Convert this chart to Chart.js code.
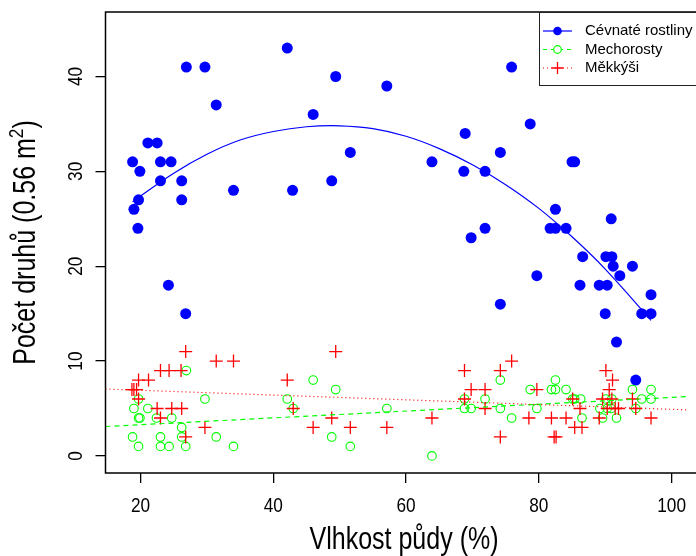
<!DOCTYPE html>
<html>
<head>
<meta charset="utf-8">
<script src="https://cdn.jsdelivr.net/npm/chart.js@4.4.1/dist/chart.umd.min.js"></script>
<style>
  html, body { margin: 0; padding: 0; background: #fff; }
</style>
</head>
<body>
<canvas id="myChart" width="696" height="556"></canvas>
<script>
// values
const cevnateX = [18.8, 19.0, 19.6, 19.7, 19.9, 21.1, 22.5, 23.0, 23.0, 24.2, 24.6, 26.2, 26.2, 26.8, 26.9, 29.7, 31.4, 34.0, 42.1, 42.9,
  46.0, 48.8, 49.4, 51.6, 57.1, 63.9, 68.7, 68.9, 69.8, 71.9, 71.9, 74.2, 74.2, 75.9, 78.7, 79.7, 81.7, 82.5, 82.5, 84.1,
  85.0, 85.4, 86.2, 86.6, 89.1, 90.3, 90.0, 90.1, 91.0, 90.9, 91.2, 91.7, 92.2, 94.1, 94.6, 95.5, 96.9, 96.9];
const cevnateY = [31, 26, 24, 27, 30, 33, 33, 31, 29, 18, 31, 29, 27, 15, 41, 41, 37, 28, 43, 28,
  36, 29, 40, 32, 39, 31, 30, 34, 23, 30, 24, 32, 16, 41, 35, 19, 24, 24, 26, 24,
  31, 31, 18, 21, 18, 18, 15, 21, 21, 25, 20, 12, 19, 20, 8, 15, 15, 17];

const mechX = [18.8, 19.0, 19.7, 19.7, 19.9, 19.7, 21.1, 22.4, 23.0, 23.0, 24.3, 24.7, 26.2, 26.2, 26.8, 26.9, 29.7, 31.4, 34.0, 42.1,
  43.0, 46.0, 48.8, 49.4, 51.6, 57.1, 63.9, 68.8, 68.8, 69.8, 71.9, 74.2, 74.2, 75.9, 78.7, 79.7, 81.9, 82.5, 82.5, 84.1,
  85.1, 85.4, 86.3, 86.5, 89.2, 89.6, 90.1, 90.3, 90.9, 91.0, 91.7, 94.1, 94.6, 95.5, 96.9, 96.9];
const mechY = [2, 5, 6, 4, 4, 1, 5, 4, 2, 1, 1, 4, 3, 2, 1, 9, 6, 2, 1, 6,
  5, 8, 2, 7, 1, 5, 0, 6, 5, 5, 6, 8, 5, 4, 7, 5, 7, 7, 8, 7,
  6, 6, 6, 4, 5, 4, 6, 5, 5, 6, 4, 7, 5, 6, 7, 6];

const mekX = [18.7, 19.0, 19.4, 19.7, 19.7, 21.2, 22.5, 23.0, 23.0, 24.3, 24.7, 26.1, 26.2, 26.8, 26.8, 29.7, 31.4, 34.0, 42.1, 43.0,
  46.0, 48.8, 49.4, 51.6, 57.1, 63.9, 68.8, 68.8, 69.8, 71.9, 71.9, 74.2, 74.2, 75.9, 78.5, 79.7, 81.9, 82.3, 82.6, 84.1,
  85.1, 85.4, 86.2, 86.5, 89.1, 89.6, 90.1, 90.3, 90.6, 91.0, 91.1, 91.5, 92.0, 94.1, 94.6, 96.9];
const mekY = [7, 7, 7, 8, 6, 8, 5, 9, 4, 9, 5, 9, 5, 11, 2, 3, 10, 10, 8, 5,
  3, 4, 11, 3, 3, 4, 9, 6, 7, 7, 5, 9, 2, 10, 4, 7, 4, 2, 2, 4,
  6, 3, 5, 3, 4, 6, 9, 5, 7, 6, 8, 5, 5, 6, 5, 4];

// fitted curves
const fitCevX = [18.8, 25, 30, 35, 40, 45, 50, 55, 60, 65, 70, 75, 80, 85, 90, 96.9];
const fitCevY = [26.8, 29.8, 31.8, 33.3, 34.2, 34.7, 34.8, 34.5, 33.7, 32.4, 30.7, 28.6, 26.1, 23.1, 19.7, 14.3];
const fitMechX = [14.72, 102.5];
const fitMechY = [3.1, 6.26];
const fitMekX = [14.72, 102.5];
const fitMekY = [7.05, 4.85];

const xTicks = [20, 40, 60, 80, 100];
const yTicks = [0, 10, 20, 30, 40];
const labels = ['Cévnaté rostliny', 'Mechorosty', 'Měkkýši'];
const xTitle = 'Vlhkost půdy (%)';
const yTitle = 'Počet druhů (0.56 m';

const sans = '"Liberation Sans", Arial, sans-serif';
const squeeze = 0.82; // axis text in the reference is condensed

function pts(xs, ys) {
  return xs.map((x, i) => ({ x: x, y: ys[i] }));
}

// draw condensed text at (x, y), optionally rotated
function narrowText(ctx, text, x, y, size, rot) {
  ctx.save();
  ctx.translate(x, y);
  if (rot) ctx.rotate(rot);
  ctx.scale(squeeze, 1);
  ctx.font = size + 'px ' + sans;
  ctx.fillText(text, 0, 0);
  ctx.restore();
}

const data = {
  datasets: [
    { label: 'fit3', data: pts(fitMekX, fitMekY), showLine: true, pointRadius: 0, borderColor: '#FF0000', borderWidth: 1.2, borderDash: [1, 3] },
    { label: 'fit2', data: pts(fitMechX, fitMechY), showLine: true, pointRadius: 0, borderColor: '#00FF00', borderWidth: 1.2, borderDash: [5, 4] },
    { label: 'fit1', data: pts(fitCevX, fitCevY), showLine: true, pointRadius: 0, borderColor: '#0000FF', borderWidth: 1.2, tension: 0.4 },
    { label: labels[2], data: pts(mekX, mekY), pointStyle: 'cross', pointRadius: 6.5, borderColor: '#FF0000', borderWidth: 1.3, backgroundColor: '#FF0000' },
    { label: labels[1], data: pts(mechX, mechY), pointStyle: 'circle', pointRadius: 4.3, borderColor: '#00FF00', borderWidth: 1.1, backgroundColor: 'rgba(0,0,0,0)' },
    { label: labels[0], data: pts(cevnateX, cevnateY), pointStyle: 'circle', pointRadius: 5.5, borderWidth: 0, backgroundColor: '#0000FF' }
  ]
};

// frame, axis labels, titles and legend in R style
const rStyle = {
  id: 'rStyle',
  afterDraw(chart) {
    const ctx = chart.ctx;
    const a = chart.chartArea;
    const xs = chart.scales.x;
    const ys = chart.scales.y;
    ctx.save();
    ctx.strokeStyle = '#000';
    ctx.lineWidth = 1.5;
    ctx.beginPath();
    ctx.moveTo(a.right + 20, a.top);
    ctx.lineTo(a.left, a.top);
    ctx.lineTo(a.left, a.bottom);
    ctx.lineTo(a.right + 20, a.bottom);
    ctx.stroke();

    ctx.fillStyle = '#000';
    ctx.textAlign = 'center';
    ctx.textBaseline = 'alphabetic';

    // tick labels
    xTicks.forEach(v => narrowText(ctx, String(v), xs.getPixelForValue(v), 512, 21, 0));
    yTicks.forEach(v => narrowText(ctx, String(v), 82, ys.getPixelForValue(v), 21, -Math.PI / 2));

    // x title
    narrowText(ctx, xTitle, 404, 549, 30.5, 0);

    // y title with superscript
    ctx.save();
    ctx.translate(35, (a.top + a.bottom) / 2);
    ctx.rotate(-Math.PI / 2);
    ctx.scale(squeeze, 1);
    ctx.font = '30.5px ' + sans;
    const w1 = ctx.measureText(yTitle).width;
    ctx.font = '21px ' + sans;
    const w2 = ctx.measureText('2').width;
    ctx.font = '30.5px ' + sans;
    const w3 = ctx.measureText(')').width;
    const start = -(w1 + w2 + w3) / 2;
    ctx.textAlign = 'left';
    ctx.fillText(yTitle, start, 0);
    ctx.font = '21px ' + sans;
    ctx.fillText('2', start + w1, -12);
    ctx.font = '30.5px ' + sans;
    ctx.fillText(')', start + w1 + w2, 0);
    ctx.restore();

    // legend
    ctx.lineWidth = 1;
    ctx.strokeStyle = '#222';
    ctx.strokeRect(539.5, 12.5, 200, 73);
    const rows = [31, 49.5, 68];
    const cols = ['#0000FF', '#00FF00', '#FF0000'];
    const dashes = [[], [4, 4], [1, 3]];
    rows.forEach((ry, i) => {
      ctx.strokeStyle = cols[i];
      ctx.lineWidth = 1.2;
      ctx.setLineDash(dashes[i]);
      ctx.beginPath();
      ctx.moveTo(543, ry);
      ctx.lineTo(572, ry);
      ctx.stroke();
      ctx.setLineDash([]);
      if (i === 0) {
        ctx.fillStyle = cols[i];
        ctx.beginPath(); ctx.arc(557.5, ry, 4.3, 0, Math.PI * 2); ctx.fill();
      } else if (i === 1) {
        ctx.fillStyle = '#fff';
        ctx.beginPath(); ctx.arc(557.5, ry, 3.8, 0, Math.PI * 2); ctx.fill(); ctx.stroke();
      } else {
        ctx.lineWidth = 1.3;
        ctx.beginPath();
        ctx.moveTo(551.5, ry); ctx.lineTo(563.5, ry);
        ctx.moveTo(557.5, ry - 6); ctx.lineTo(557.5, ry + 6);
        ctx.stroke();
      }
      ctx.fillStyle = '#000';
      ctx.font = '15px ' + sans;
      ctx.textAlign = 'left';
      ctx.textBaseline = 'middle';
      ctx.fillText(labels[i], 585, ry);
    });
    ctx.restore();
  }
};

const config = {
  type: 'scatter',
  data: data,
  options: {
    responsive: false,
    animation: false,
    layout: { padding: { top: 12, right: 0, bottom: 0, left: 0 } },
    plugins: { legend: { display: false }, tooltip: { enabled: false } },
    scales: {
      x: {
        type: 'linear', min: 14.72, max: 102.5,
        afterBuildTicks: s => { s.ticks = xTicks.map(v => ({ value: v })); },
        afterFit: s => { s.height = 83; },
        border: { display: false },
        grid: { drawOnChartArea: false, drawTicks: true, tickLength: 10, color: '#000', lineWidth: 1.3 },
        ticks: { display: false }
      },
      y: {
        type: 'linear', min: -1.8, max: 46.8,
        afterBuildTicks: s => { s.ticks = yTicks.map(v => ({ value: v })); },
        afterFit: s => { s.width = 105.5; },
        border: { display: false },
        grid: { drawOnChartArea: false, drawTicks: true, tickLength: 10, color: '#000', lineWidth: 1.3 },
        ticks: { display: false }
      }
    }
  },
  plugins: [rStyle]
};

const myChart = new Chart(document.getElementById('myChart'), config);
</script>
</body>
</html>
